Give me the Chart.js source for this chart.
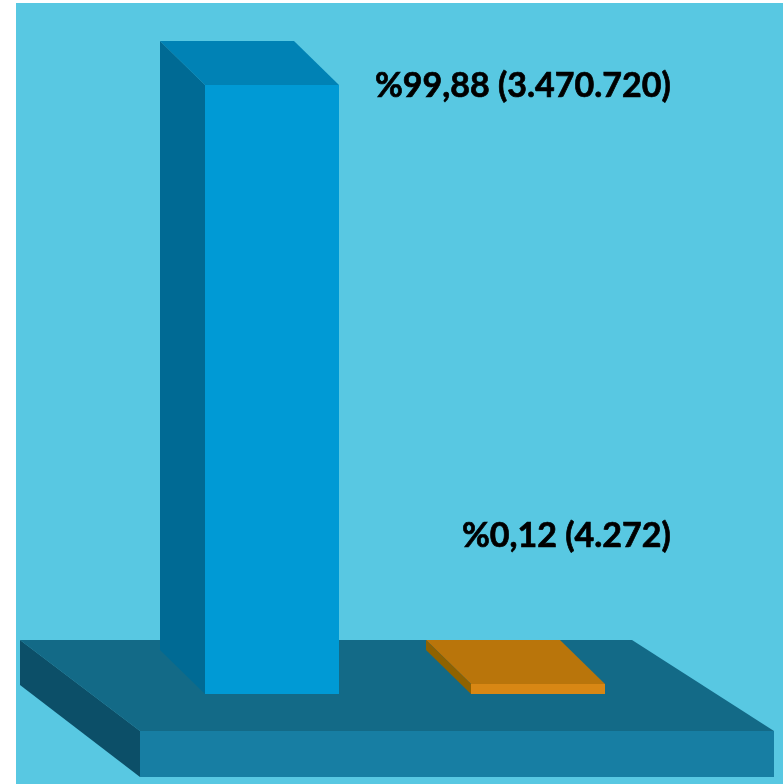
<!DOCTYPE html>
<html>
<head>
<meta charset="utf-8">
<title>Chart</title>
<script src="https://cdn.jsdelivr.net/npm/chart.js@4"></script>
<style>
  html, body { margin: 0; padding: 0; background: #ffffff; }
  canvas { display: block; }
</style>
</head>
<body>
<canvas id="chart" width="783" height="784"></canvas>
<script>
const categories = ["%99,88", "%0,12"];
const values = [3470720, 4272];
const valueLabels = ["%99,88 (3.470.720)", "%0,12 (4.272)"];

const frontColors = ["#009ad5", "#d88714"];
const topColors = ["#0082b5", "#b9750b"];
const sideColors = ["#006a94", "#8f6200"];

// oblique depth of the bars, in pixels
const DEPTH_X = 45;
const DEPTH_Y = 44;

function face(ctx, points, color) {
  ctx.fillStyle = color;
  ctx.beginPath();
  points.forEach((p, i) => (i === 0 ? ctx.moveTo(p[0], p[1]) : ctx.lineTo(p[0], p[1])));
  ctx.closePath();
  ctx.fill();
}

const scenePlugin = {
  id: "scene",
  beforeDatasetsDraw(chart) {
    const { ctx, chartArea } = chart;
    const base = chartArea.bottom;
    const left = chartArea.left;
    const right = chartArea.right;

    ctx.save();
    ctx.fillStyle = "#58c8e2";
    ctx.fillRect(16, 3, chart.width - 16, chart.height - 3);

    // floor the bars stand on
    const backY = base - 54;
    const frontY = base + 37;
    face(ctx, [[left - 119, backY], [left + 493, backY], [right + 103, frontY], [left + 1, frontY]], "#136a87");
    face(ctx, [[left + 1, frontY], [right + 103, frontY], [right + 103, frontY + 46], [left + 1, frontY + 46]], "#177ea3");
    face(ctx, [[left - 119, backY], [left + 1, frontY], [left + 1, frontY + 46], [left - 119, backY + 45]], "#0c4f68");

    // top and side of each bar, taken from the bar elements
    chart.getDatasetMeta(0).data.forEach((bar, i) => {
      const x0 = bar.x - bar.width / 2;
      const x1 = bar.x + bar.width / 2;
      face(ctx, [[x0, bar.y], [x1, bar.y], [x1 - DEPTH_X, bar.y - DEPTH_Y], [x0 - DEPTH_X, bar.y - DEPTH_Y]], topColors[i]);
      face(ctx, [[x0, bar.y], [x0 - DEPTH_X, bar.y - DEPTH_Y], [x0 - DEPTH_X, bar.base - DEPTH_Y], [x0, bar.base]], sideColors[i]);
    });
    ctx.restore();
  },
  afterDatasetsDraw(chart) {
    const { ctx } = chart;
    const offsets = [[36, 12], [-143, -137]];
    ctx.save();
    ctx.fillStyle = "#000000";
    ctx.strokeStyle = "#000000";
    ctx.lineWidth = 0.7;
    ctx.font = "bold 34px Lato, 'Open Sans', sans-serif";
    ctx.textBaseline = "alphabetic";
    chart.getDatasetMeta(0).data.forEach((bar, i) => {
      const x1 = bar.x + bar.width / 2;
      ctx.fillText(valueLabels[i], x1 + offsets[i][0], bar.y + offsets[i][1]);
      // the original type is a little heavier than Lato bold
      ctx.strokeText(valueLabels[i], x1 + offsets[i][0], bar.y + offsets[i][1]);
    });
    ctx.restore();
  },
};

new Chart(document.getElementById("chart"), {
  type: "bar",
  data: {
    labels: categories,
    datasets: [
      {
        data: values,
        backgroundColor: frontColors,
        borderWidth: 0,
        categoryPercentage: 1,
        barPercentage: 134 / 266,
      },
    ],
  },
  options: {
    responsive: false,
    animation: false,
    layout: { padding: { left: 139, right: 112, top: 85, bottom: 90 } },
    plugins: { legend: { display: false }, tooltip: { enabled: false } },
    scales: {
      x: { display: false },
      // log axis: the 4.272 bar stays visible next to 3.470.720, as in the original
      y: { type: "logarithmic", display: false, min: 3820, max: 3470720 },
    },
  },
  plugins: [scenePlugin],
});
</script>
</body>
</html>
